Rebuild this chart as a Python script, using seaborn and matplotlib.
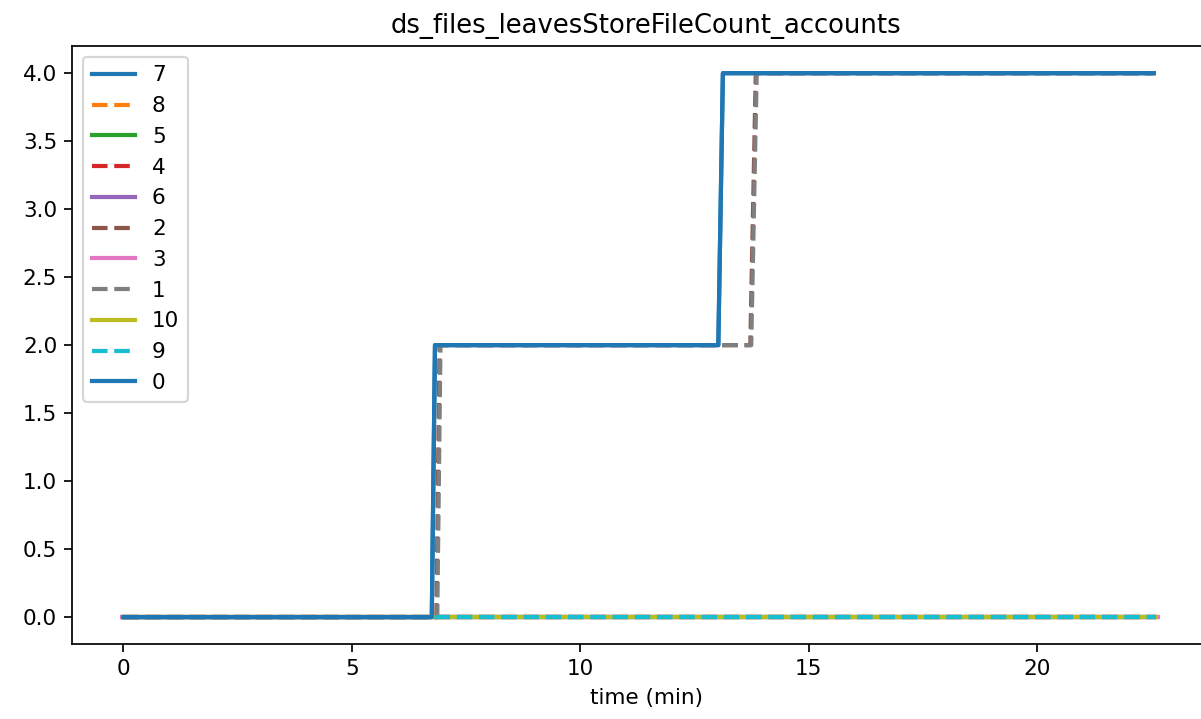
import matplotlib
matplotlib.use("Agg")
import matplotlib.pyplot as plt
import seaborn as sns

# series names in legend order
names = ["7", "8", "5", "4", "6", "2", "3", "1", "10", "9", "0"]

# time (min) and values
t_fast = [0.0, 6.75, 6.82, 13.02, 13.12, 22.55]
v_fast = [0, 0, 2, 2, 4, 4]
t_brown = [0.0, 6.85, 6.92, 13.72, 13.84, 22.55]
t_gray = [0.0, 6.87, 6.94, 13.74, 13.86, 22.55]
v_slow = [0, 0, 2, 2, 4, 4]
t_flat = [0.0, 22.60]
v_flat = [0, 0]
t_flat_long = [-0.02, 22.65]

series = {
    "7": (t_fast, v_fast),
    "8": (t_flat, v_flat),
    "5": (t_flat, v_flat),
    "4": (t_flat, v_flat),
    "6": (t_flat, v_flat),
    "2": (t_brown, v_slow),
    "3": (t_flat_long, v_flat),
    "1": (t_gray, v_slow),
    "10": (t_flat, v_flat),
    "9": (t_flat, v_flat),
    "0": (t_fast, v_fast),
}

colors = sns.color_palette("tab10", 10)

W, H = 1201, 719
DPI = 155
fig = plt.figure(figsize=(W / DPI, H / DPI), dpi=DPI)
# axes runs past the right edge like the original crop
ax = fig.add_axes([72.3 / W, 1 - 644.3 / H, (1220 - 72.3) / W, (644.3 - 46) / H])
for i, name in enumerate(names):
    x, y = series[name]
    sns.lineplot(x=x, y=y, ax=ax, label=name, color=colors[i % 10],
                 linestyle="-" if i % 2 == 0 else "--", linewidth=1.95, sort=False)

ax.set_xlim(-1.116, -1.116 + (1220 - 72.3) / 45.7)
ax.set_title("ds_files_leavesStoreFileCount_accounts")
ax.set_xlabel("time (min)")
ax.set_ylabel("")
ax.legend(loc="upper left")
plt.savefig("out.png")
